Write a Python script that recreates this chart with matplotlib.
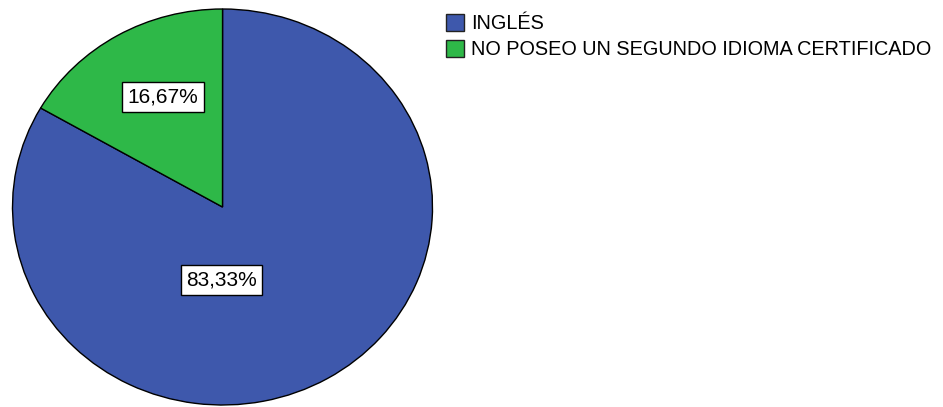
import matplotlib
matplotlib.use("Agg")
import matplotlib.pyplot as plt
from matplotlib.patches import Patch

categories = ["INGLÉS", "NO POSEO UN SEGUNDO IDIOMA CERTIFICADO"]
values = [83.33, 16.67]
labels = ["83,33%", "16,67%"]
colors = ["#3E58AC", "#2EB848"]

plt.rcParams['font.family'] = ['Liberation Sans', 'DejaVu Sans']

W, H = 943, 407
fig = plt.figure(figsize=(W / 100, H / 100), dpi=100)
# ellipse: x 12.5..432.5, y 9..405 (from top)
ax = fig.add_axes([12.5 / W, (H - 405) / H, 420 / W, 396 / H])
wedges, _ = ax.pie(values, colors=colors, startangle=150, counterclock=True,
                   wedgeprops=dict(edgecolor="black", linewidth=1.0))
ax.set_aspect('auto')
ax.set_xlim(-1, 1)
ax.set_ylim(-1, 1)
ax.axis('off')

box = dict(boxstyle="square,pad=0.25", facecolor="white", edgecolor="black", linewidth=1.0)
label_pos = [(-0.005, -0.369), (-0.283, 0.556)]
for (x, y), lab in zip(label_pos, labels):
    ax.text(x, y, lab, ha="center", va="center", fontsize=15, bbox=box)

handles = [Patch(facecolor=c, edgecolor="#222222", linewidth=1.0) for c in colors]
fig.legend(handles, categories, loc="upper left", bbox_to_anchor=(446 / W, 1 - 14 / H),
           frameon=False, fontsize=14.3, handlelength=0.92, handleheight=0.92,
           handletextpad=0.35, labelspacing=0.35, borderpad=0, borderaxespad=0)

fig.savefig("out.png", dpi=100)
